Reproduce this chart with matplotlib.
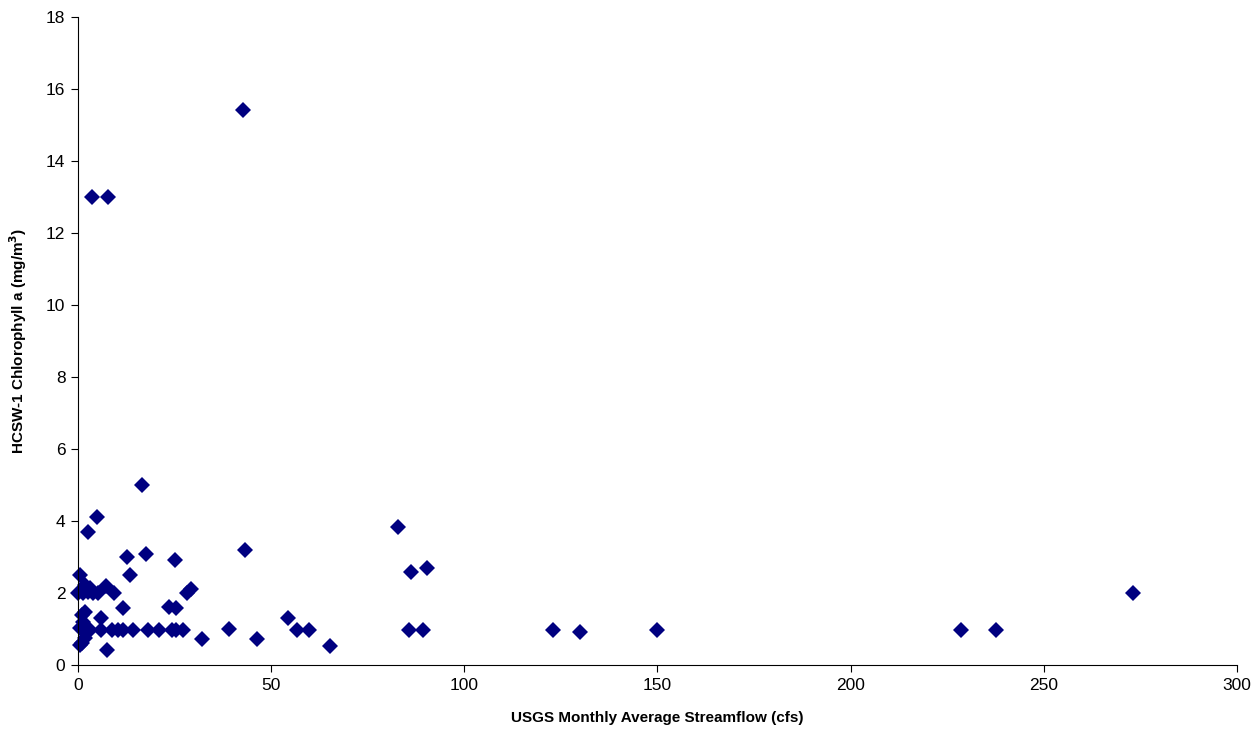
import matplotlib
matplotlib.use("Agg")
from matplotlib import pyplot as plt

# USGS monthly average streamflow (cfs) vs HCSW-1 chlorophyll a (mg/m3)
flow = [42.7, 3.6, 7.8, 16.6, 4.9, 2.6, 82.9, 43.2, 17.6, 12.7,
        25.1, 13.5, 90.3, 86.1, 273.0, 7.2, 9.4, 28.2, 29.3, 11.7,
        23.6, 25.4, 6.0, 54.3, 39.0, 32.0, 46.4, 65.2, 7.6,
        0.5, 1.8, 0.1, 1.4, 2.7, 4.0, 5.3, 3.1, 1.8, 1.0, 1.4,
        0.5, 1.8, 3.1, 6.1, 8.7, 10.4, 11.7, 14.3, 18.2, 21.1,
        24.3, 25.4, 27.3, 1.8, 1.0, 0.5,
        56.6, 59.9, 85.8, 89.4, 123.0, 130.0, 150.0, 228.6, 237.6]
chl = [15.4, 13.0, 13.0, 5.0, 4.1, 3.7, 3.82, 3.2, 3.08, 3.0,
       2.92, 2.5, 2.7, 2.59, 2.0, 2.19, 2.0, 2.0, 2.1, 1.58,
       1.6, 1.58, 1.3, 1.3, 1.0, 0.72, 0.71, 0.54, 0.42,
       2.5, 2.22, 1.99, 2.0, 2.04, 2.0, 2.0, 2.14, 1.48, 1.39, 1.2,
       1.02, 1.06, 0.97, 0.97, 0.97, 0.97, 0.97, 0.97, 0.97, 0.97,
       0.97, 0.97, 0.97, 0.74, 0.6, 0.55,
       0.98, 0.98, 0.98, 0.98, 0.98, 0.92, 0.98, 0.98, 0.98]

plt.rcParams["font.family"] = ["Liberation Sans", "DejaVu Sans"]

fig = plt.figure(figsize=(12.57, 7.34), dpi=100)
ax = fig.add_axes([0.062, 0.094, 0.922, 0.883])
ax.plot(flow, chl, "D", color="#000080", markersize=8.5, markeredgewidth=0,
        clip_on=False)

ax.set_xlim(0, 300)
ax.set_ylim(0, 18)
ax.set_xticks(range(0, 301, 50))
ax.set_yticks(range(0, 19, 2))
ax.spines["top"].set_visible(False)
ax.spines["right"].set_visible(False)
ax.tick_params(direction="out", length=5, labelsize=12.5, pad=4)
ax.set_xlabel("USGS Monthly Average Streamflow (cfs)", fontsize=11,
              fontweight="bold", labelpad=13)
ax.set_ylabel("HCSW-1 Chlorophyll a (mg/m$^\\mathbf{3}$)", fontsize=11,
              fontweight="bold", labelpad=12)

fig.savefig("out.png", dpi=100)
